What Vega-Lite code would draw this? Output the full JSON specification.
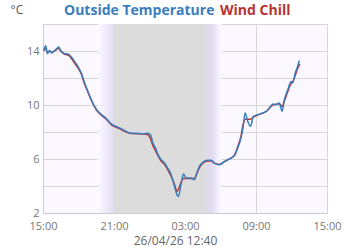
{
  "$schema": "https://vega.github.io/schema/vega-lite/v6.json",
  "autosize": "none",
  "width": 284,
  "height": 189,
  "padding": {"left": 43, "top": 24, "right": 23, "bottom": 37},
  "config": {
    "view": {"fill": "#fbf9ff", "stroke": null},
    "font": "Open Sans",
    "axis": {"labelFont": "Open Sans", "labelFontSize": 11, "labelColor": "#777777", "gridColor": "#d6d6d6", "gridWidth": 1, "domainColor": "#cccccc", "ticks": false, "zindex": 1}
  },
  "datasets": {
    "dusk": [{"s": "2026-04-25T19:40", "e": "2026-04-25T21:00"}],
    "night": [{"s": "2026-04-25T21:00", "e": "2026-04-26T04:45"}],
    "dawn": [{"s": "2026-04-26T04:45", "e": "2026-04-26T06:05"}],
    "temps": [
      {"t": "2026-04-25T15:04", "series": "Wind Chill", "v": 14.0},
      {"t": "2026-04-25T15:14", "series": "Wind Chill", "v": 14.2},
      {"t": "2026-04-25T15:22", "series": "Wind Chill", "v": 13.9},
      {"t": "2026-04-25T15:34", "series": "Wind Chill", "v": 14.0},
      {"t": "2026-04-25T15:43", "series": "Wind Chill", "v": 13.9},
      {"t": "2026-04-25T15:54", "series": "Wind Chill", "v": 13.95},
      {"t": "2026-04-25T16:08", "series": "Wind Chill", "v": 14.1},
      {"t": "2026-04-25T16:19", "series": "Wind Chill", "v": 14.2},
      {"t": "2026-04-25T16:30", "series": "Wind Chill", "v": 14.0},
      {"t": "2026-04-25T16:50", "series": "Wind Chill", "v": 13.75},
      {"t": "2026-04-25T17:07", "series": "Wind Chill", "v": 13.7},
      {"t": "2026-04-25T17:24", "series": "Wind Chill", "v": 13.45},
      {"t": "2026-04-25T17:40", "series": "Wind Chill", "v": 13.1},
      {"t": "2026-04-25T17:57", "series": "Wind Chill", "v": 12.75},
      {"t": "2026-04-25T18:14", "series": "Wind Chill", "v": 12.3},
      {"t": "2026-04-25T18:31", "series": "Wind Chill", "v": 11.55},
      {"t": "2026-04-25T18:48", "series": "Wind Chill", "v": 10.95},
      {"t": "2026-04-25T19:05", "series": "Wind Chill", "v": 10.35},
      {"t": "2026-04-25T19:30", "series": "Wind Chill", "v": 9.65},
      {"t": "2026-04-25T19:56", "series": "Wind Chill", "v": 9.25},
      {"t": "2026-04-25T20:21", "series": "Wind Chill", "v": 8.95},
      {"t": "2026-04-25T20:46", "series": "Wind Chill", "v": 8.55},
      {"t": "2026-04-25T21:12", "series": "Wind Chill", "v": 8.35},
      {"t": "2026-04-25T21:28", "series": "Wind Chill", "v": 8.25},
      {"t": "2026-04-25T21:54", "series": "Wind Chill", "v": 8.05},
      {"t": "2026-04-25T22:19", "series": "Wind Chill", "v": 7.9},
      {"t": "2026-04-25T22:54", "series": "Wind Chill", "v": 7.87},
      {"t": "2026-04-25T23:26", "series": "Wind Chill", "v": 7.85},
      {"t": "2026-04-25T23:52", "series": "Wind Chill", "v": 7.8},
      {"t": "2026-04-26T00:05", "series": "Wind Chill", "v": 7.5},
      {"t": "2026-04-26T00:17", "series": "Wind Chill", "v": 7.0},
      {"t": "2026-04-26T00:31", "series": "Wind Chill", "v": 6.6},
      {"t": "2026-04-26T00:41", "series": "Wind Chill", "v": 6.3},
      {"t": "2026-04-26T00:59", "series": "Wind Chill", "v": 5.85},
      {"t": "2026-04-26T01:16", "series": "Wind Chill", "v": 5.6},
      {"t": "2026-04-26T01:31", "series": "Wind Chill", "v": 5.25},
      {"t": "2026-04-26T01:50", "series": "Wind Chill", "v": 4.7},
      {"t": "2026-04-26T02:07", "series": "Wind Chill", "v": 4.1},
      {"t": "2026-04-26T02:19", "series": "Wind Chill", "v": 3.6},
      {"t": "2026-04-26T02:27", "series": "Wind Chill", "v": 3.75},
      {"t": "2026-04-26T02:41", "series": "Wind Chill", "v": 4.3},
      {"t": "2026-04-26T02:52", "series": "Wind Chill", "v": 4.55},
      {"t": "2026-04-26T03:06", "series": "Wind Chill", "v": 4.55},
      {"t": "2026-04-26T03:31", "series": "Wind Chill", "v": 4.55},
      {"t": "2026-04-26T03:48", "series": "Wind Chill", "v": 4.55},
      {"t": "2026-04-26T03:57", "series": "Wind Chill", "v": 4.8},
      {"t": "2026-04-26T04:13", "series": "Wind Chill", "v": 5.35},
      {"t": "2026-04-26T04:30", "series": "Wind Chill", "v": 5.7},
      {"t": "2026-04-26T04:55", "series": "Wind Chill", "v": 5.85},
      {"t": "2026-04-26T05:13", "series": "Wind Chill", "v": 5.85},
      {"t": "2026-04-26T05:29", "series": "Wind Chill", "v": 5.7},
      {"t": "2026-04-26T05:55", "series": "Wind Chill", "v": 5.6},
      {"t": "2026-04-26T06:20", "series": "Wind Chill", "v": 5.8},
      {"t": "2026-04-26T06:45", "series": "Wind Chill", "v": 6.0},
      {"t": "2026-04-26T07:11", "series": "Wind Chill", "v": 6.3},
      {"t": "2026-04-26T07:27", "series": "Wind Chill", "v": 6.9},
      {"t": "2026-04-26T07:44", "series": "Wind Chill", "v": 7.7},
      {"t": "2026-04-26T07:54", "series": "Wind Chill", "v": 8.5},
      {"t": "2026-04-26T08:05", "series": "Wind Chill", "v": 8.95},
      {"t": "2026-04-26T08:18", "series": "Wind Chill", "v": 8.95},
      {"t": "2026-04-26T08:32", "series": "Wind Chill", "v": 8.95},
      {"t": "2026-04-26T08:47", "series": "Wind Chill", "v": 9.1},
      {"t": "2026-04-26T09:09", "series": "Wind Chill", "v": 9.25},
      {"t": "2026-04-26T09:34", "series": "Wind Chill", "v": 9.4},
      {"t": "2026-04-26T09:51", "series": "Wind Chill", "v": 9.5},
      {"t": "2026-04-26T10:08", "series": "Wind Chill", "v": 9.75},
      {"t": "2026-04-26T10:25", "series": "Wind Chill", "v": 10.0},
      {"t": "2026-04-26T10:42", "series": "Wind Chill", "v": 10.05},
      {"t": "2026-04-26T10:58", "series": "Wind Chill", "v": 10.1},
      {"t": "2026-04-26T11:12", "series": "Wind Chill", "v": 9.9},
      {"t": "2026-04-26T11:24", "series": "Wind Chill", "v": 10.3},
      {"t": "2026-04-26T11:41", "series": "Wind Chill", "v": 11.0},
      {"t": "2026-04-26T11:58", "series": "Wind Chill", "v": 11.6},
      {"t": "2026-04-26T12:06", "series": "Wind Chill", "v": 11.7},
      {"t": "2026-04-26T12:19", "series": "Wind Chill", "v": 12.2},
      {"t": "2026-04-26T12:31", "series": "Wind Chill", "v": 12.7},
      {"t": "2026-04-26T12:42", "series": "Wind Chill", "v": 13.05},
      {"t": "2026-04-25T15:04", "series": "Outside Temperature", "v": 14.04},
      {"t": "2026-04-25T15:14", "series": "Outside Temperature", "v": 14.39},
      {"t": "2026-04-25T15:22", "series": "Outside Temperature", "v": 13.8},
      {"t": "2026-04-25T15:34", "series": "Outside Temperature", "v": 14.04},
      {"t": "2026-04-25T15:43", "series": "Outside Temperature", "v": 13.85},
      {"t": "2026-04-25T15:54", "series": "Outside Temperature", "v": 13.97},
      {"t": "2026-04-25T16:08", "series": "Outside Temperature", "v": 14.15},
      {"t": "2026-04-25T16:19", "series": "Outside Temperature", "v": 14.3},
      {"t": "2026-04-25T16:30", "series": "Outside Temperature", "v": 14.04},
      {"t": "2026-04-25T16:50", "series": "Outside Temperature", "v": 13.8},
      {"t": "2026-04-25T17:07", "series": "Outside Temperature", "v": 13.78},
      {"t": "2026-04-25T17:24", "series": "Outside Temperature", "v": 13.56},
      {"t": "2026-04-25T17:40", "series": "Outside Temperature", "v": 13.23},
      {"t": "2026-04-25T17:57", "series": "Outside Temperature", "v": 12.86},
      {"t": "2026-04-25T18:14", "series": "Outside Temperature", "v": 12.37},
      {"t": "2026-04-25T18:31", "series": "Outside Temperature", "v": 11.63},
      {"t": "2026-04-25T18:48", "series": "Outside Temperature", "v": 11.0},
      {"t": "2026-04-25T19:05", "series": "Outside Temperature", "v": 10.39},
      {"t": "2026-04-25T19:30", "series": "Outside Temperature", "v": 9.7},
      {"t": "2026-04-25T19:56", "series": "Outside Temperature", "v": 9.3},
      {"t": "2026-04-25T20:21", "series": "Outside Temperature", "v": 9.0},
      {"t": "2026-04-25T20:46", "series": "Outside Temperature", "v": 8.6},
      {"t": "2026-04-25T21:12", "series": "Outside Temperature", "v": 8.4},
      {"t": "2026-04-25T21:28", "series": "Outside Temperature", "v": 8.3},
      {"t": "2026-04-25T21:54", "series": "Outside Temperature", "v": 8.1},
      {"t": "2026-04-25T22:19", "series": "Outside Temperature", "v": 7.93},
      {"t": "2026-04-25T22:54", "series": "Outside Temperature", "v": 7.9},
      {"t": "2026-04-25T23:26", "series": "Outside Temperature", "v": 7.87},
      {"t": "2026-04-25T23:52", "series": "Outside Temperature", "v": 7.9},
      {"t": "2026-04-26T00:05", "series": "Outside Temperature", "v": 7.8},
      {"t": "2026-04-26T00:17", "series": "Outside Temperature", "v": 7.19},
      {"t": "2026-04-26T00:31", "series": "Outside Temperature", "v": 6.8},
      {"t": "2026-04-26T00:41", "series": "Outside Temperature", "v": 6.4},
      {"t": "2026-04-26T00:59", "series": "Outside Temperature", "v": 5.95},
      {"t": "2026-04-26T01:16", "series": "Outside Temperature", "v": 5.7},
      {"t": "2026-04-26T01:31", "series": "Outside Temperature", "v": 5.35},
      {"t": "2026-04-26T01:50", "series": "Outside Temperature", "v": 4.84},
      {"t": "2026-04-26T02:07", "series": "Outside Temperature", "v": 3.97},
      {"t": "2026-04-26T02:19", "series": "Outside Temperature", "v": 3.36},
      {"t": "2026-04-26T02:27", "series": "Outside Temperature", "v": 3.23},
      {"t": "2026-04-26T02:41", "series": "Outside Temperature", "v": 4.22},
      {"t": "2026-04-26T02:52", "series": "Outside Temperature", "v": 4.89},
      {"t": "2026-04-26T03:06", "series": "Outside Temperature", "v": 4.59},
      {"t": "2026-04-26T03:31", "series": "Outside Temperature", "v": 4.59},
      {"t": "2026-04-26T03:48", "series": "Outside Temperature", "v": 4.47},
      {"t": "2026-04-26T03:57", "series": "Outside Temperature", "v": 4.84},
      {"t": "2026-04-26T04:13", "series": "Outside Temperature", "v": 5.45},
      {"t": "2026-04-26T04:30", "series": "Outside Temperature", "v": 5.75},
      {"t": "2026-04-26T04:55", "series": "Outside Temperature", "v": 5.9},
      {"t": "2026-04-26T05:13", "series": "Outside Temperature", "v": 5.9},
      {"t": "2026-04-26T05:29", "series": "Outside Temperature", "v": 5.7},
      {"t": "2026-04-26T05:55", "series": "Outside Temperature", "v": 5.58},
      {"t": "2026-04-26T06:20", "series": "Outside Temperature", "v": 5.82},
      {"t": "2026-04-26T06:45", "series": "Outside Temperature", "v": 6.0},
      {"t": "2026-04-26T07:11", "series": "Outside Temperature", "v": 6.25},
      {"t": "2026-04-26T07:27", "series": "Outside Temperature", "v": 6.8},
      {"t": "2026-04-26T07:44", "series": "Outside Temperature", "v": 7.56},
      {"t": "2026-04-26T07:54", "series": "Outside Temperature", "v": 8.3},
      {"t": "2026-04-26T08:05", "series": "Outside Temperature", "v": 9.41},
      {"t": "2026-04-26T08:18", "series": "Outside Temperature", "v": 8.79},
      {"t": "2026-04-26T08:32", "series": "Outside Temperature", "v": 8.42},
      {"t": "2026-04-26T08:47", "series": "Outside Temperature", "v": 9.16},
      {"t": "2026-04-26T09:09", "series": "Outside Temperature", "v": 9.28},
      {"t": "2026-04-26T09:34", "series": "Outside Temperature", "v": 9.41},
      {"t": "2026-04-26T09:51", "series": "Outside Temperature", "v": 9.53},
      {"t": "2026-04-26T10:08", "series": "Outside Temperature", "v": 9.78},
      {"t": "2026-04-26T10:25", "series": "Outside Temperature", "v": 10.07},
      {"t": "2026-04-26T10:42", "series": "Outside Temperature", "v": 10.02},
      {"t": "2026-04-26T10:58", "series": "Outside Temperature", "v": 10.15},
      {"t": "2026-04-26T11:12", "series": "Outside Temperature", "v": 9.53},
      {"t": "2026-04-26T11:24", "series": "Outside Temperature", "v": 10.4},
      {"t": "2026-04-26T11:41", "series": "Outside Temperature", "v": 11.13},
      {"t": "2026-04-26T11:58", "series": "Outside Temperature", "v": 11.75},
      {"t": "2026-04-26T12:06", "series": "Outside Temperature", "v": 11.63},
      {"t": "2026-04-26T12:19", "series": "Outside Temperature", "v": 12.37},
      {"t": "2026-04-26T12:31", "series": "Outside Temperature", "v": 12.86},
      {"t": "2026-04-26T12:40", "series": "Outside Temperature", "v": 13.3}
    ]
  },
  "layer": [
    {
      "data": {"name": "dusk"},
      "mark": {"type": "rect", "fill": {"gradient": "linear", "x1": 0, "x2": 1, "y1": 0, "y2": 0, "stops": [{"offset": 0, "color": "#fbf9ff"}, {"offset": 1, "color": "#e2dbf3"}]}},
      "encoding": {
        "x": {"field": "s", "type": "temporal", "title": "26/04/26 12:40", "scale": {"domain": [{"year": 2026, "month": 4, "date": 25, "hours": 15}, {"year": 2026, "month": 4, "date": 26, "hours": 15}], "nice": false}},
        "x2": {"field": "e"}
      }
    },
    {
      "data": {"name": "night"},
      "mark": {"type": "rect", "fill": "#dcdcdd"},
      "encoding": {
        "x": {"field": "s", "type": "temporal", "title": "26/04/26 12:40"},
        "x2": {"field": "e"}
      }
    },
    {
      "data": {"name": "dawn"},
      "mark": {"type": "rect", "fill": {"gradient": "linear", "x1": 0, "x2": 1, "y1": 0, "y2": 0, "stops": [{"offset": 0, "color": "#dddbe6"}, {"offset": 0.4, "color": "#e2dbf3"}, {"offset": 1, "color": "#fbf9ff"}]}},
      "encoding": {
        "x": {"field": "s", "type": "temporal", "title": "26/04/26 12:40"},
        "x2": {"field": "e"}
      }
    },
    {
      "data": {"name": "temps"},
      "mark": {"type": "line", "strokeWidth": 1.5, "interpolate": "monotone"},
      "encoding": {
        "x": {
          "field": "t", "type": "temporal",
          "title": "26/04/26 12:40",
          "axis": {
            "titleFont": "Open Sans", "titleFontSize": 12, "titleFontWeight": "normal", "titleColor": "#666666",
            "titleX": 132, "titleY": 27, "titleAlign": "center", "titleBaseline": "middle",
            "labelPadding": 7, "labelFlush": false,
            "values": [
              {"year": 2026, "month": 4, "date": 25, "hours": 15},
              {"year": 2026, "month": 4, "date": 25, "hours": 18},
              {"year": 2026, "month": 4, "date": 25, "hours": 21},
              {"year": 2026, "month": 4, "date": 26, "hours": 0},
              {"year": 2026, "month": 4, "date": 26, "hours": 3},
              {"year": 2026, "month": 4, "date": 26, "hours": 6},
              {"year": 2026, "month": 4, "date": 26, "hours": 9},
              {"year": 2026, "month": 4, "date": 26, "hours": 12},
              {"year": 2026, "month": 4, "date": 26, "hours": 15}
            ],
            "labelExpr": "hours(datum.value) % 6 == 3 ? timeFormat(datum.value, '%H:%M') : ''",
            "labelOverlap": false
          }
        },
        "y": {
          "field": "v", "type": "quantitative",
          "scale": {"domain": [2, 16], "nice": false},
          "axis": {
            "title": "°C", "titleAngle": 0, "titleX": -33, "titleY": -15, "titleAlign": "left", "titleBaseline": "middle",
            "titleFont": "Open Sans", "titleFontSize": 12, "titleFontWeight": "normal", "titleColor": "#555555",
            "values": [2, 4, 6, 8, 10, 12, 14, 16],
            "labelExpr": "datum.value % 4 == 2 ? datum.label : ''",
            "labelPadding": 4, "labelOverlap": false
          }
        },
        "color": {
          "field": "series", "type": "nominal",
          "scale": {"domain": ["Outside Temperature", "Wind Chill"], "range": ["#3a7dbd", "#b83232"]},
          "legend": {
            "orient": "none", "legendX": 7, "legendY": -20, "direction": "horizontal", "title": null,
            "symbolSize": 0, "symbolStrokeWidth": 0, "symbolOpacity": 0,
            "labelFont": "Open Sans", "labelFontSize": 14, "labelFontWeight": "bold", "labelOffset": 0,
            "columnPadding": 4, "padding": 0, "labelLimit": 300,
            "encode": {"labels": {"update": {
              "fill": {"signal": "datum.value == 'Wind Chill' ? '#b83232' : '#3a7dbd'"},
              "dx": {"signal": "datum.value == 'Wind Chill' ? -13 : 0"}
            }}}
          }
        }
      }
    }
  ]
}
